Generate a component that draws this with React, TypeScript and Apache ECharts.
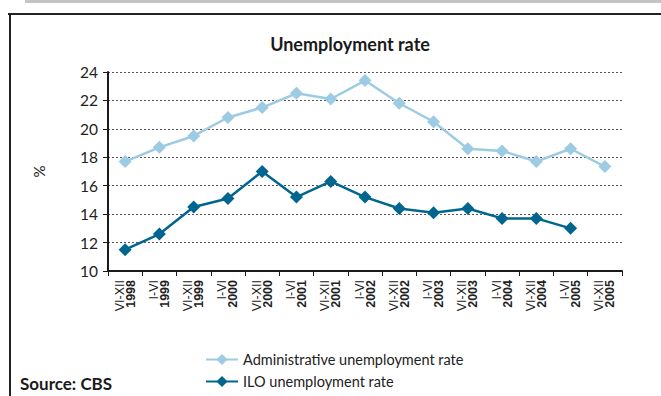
import React, { useEffect, useRef } from "react";
import * as echarts from "echarts";

const periods = ["VI-XII", "I-VI", "VI-XII", "I-VI", "VI-XII", "I-VI", "VI-XII", "I-VI", "VI-XII", "I-VI", "VI-XII", "I-VI", "VI-XII", "I-VI", "VI-XII"];
const years = ["1998", "1999", "1999", "2000", "2000", "2001", "2001", "2002", "2002", "2003", "2003", "2004", "2004", "2005", "2005"];
const adminRate = [17.7, 18.7, 19.5, 20.8, 21.5, 22.5, 22.1, 23.4, 21.8, 20.5, 18.6, 18.45, 17.7, 18.6, 17.35];
const iloRate: (number | null)[] = [11.5, 12.6, 14.5, 15.1, 17.0, 15.2, 16.3, 15.2, 14.4, 14.1, 14.4, 13.7, 13.7, 13.0, null];
const yTicks = { min: 10, max: 24, interval: 2 };

const categories = periods.map((p, i) => p + "\n" + years[i]);

export default function App() {
  const ref = useRef<HTMLDivElement>(null);
  useEffect(() => {
    if (!ref.current) return;
    const chart = echarts.init(ref.current, null, { renderer: "svg" });
    const humanist = "Lato, 'Open Sans', sans-serif";
    chart.setOption({
      animation: false,
      backgroundColor: "#fff",
      title: {
        text: "Unemployment rate",
        left: 345,
        textAlign: "center",
        top: 30,
        textStyle: { fontFamily: humanist, fontWeight: "bold", fontSize: 18, color: "#1a1a1a" },
      },
      grid: { left: 108, right: 39, top: 72, bottom: 125 },
      xAxis: {
        type: "category",
        data: categories,
        boundaryGap: true,
        axisLine: { lineStyle: { color: "#1a1a1a", width: 2 } },
        axisTick: { show: true, length: 5, lineStyle: { color: "#1a1a1a", width: 1 } },
        axisLabel: {
          interval: 0,
          rotate: 90,
          margin: 9,
          formatter: (v: string) => {
            const [p, y] = v.split("\n");
            return "{a|" + p + "}\n{b|" + y + "}";
          },
          rich: {
            a: { fontFamily: "'Liberation Sans', Arial, sans-serif", fontSize: 12.5, color: "#222", lineHeight: 11 },
            b: { fontFamily: "'Liberation Sans', Arial, sans-serif", fontSize: 12.5, fontWeight: "bold", color: "#222", lineHeight: 11 },
          },
        },
        splitLine: { show: false },
      },
      yAxis: {
        type: "value",
        min: yTicks.min,
        max: yTicks.max,
        interval: yTicks.interval,
        name: "%",
        nameLocation: "middle",
        nameRotate: 90,
        nameGap: 62,
        nameTextStyle: { fontFamily: humanist, fontSize: 15, color: "#222" },
        axisLine: { show: true, lineStyle: { color: "#1a1a1a", width: 2 } },
        axisTick: { show: true, length: 5, lineStyle: { color: "#1a1a1a", width: 1 } },
        axisLabel: { fontFamily: humanist, fontSize: 15.5, color: "#222", margin: 10 },
        splitLine: { show: true, lineStyle: { color: "#555", width: 1, type: [2, 2] } },
      },
      legend: {
        orient: "vertical",
        left: 200,
        top: 347,
        itemWidth: 32,
        itemHeight: 14,
        itemGap: 7,
        textStyle: { fontFamily: humanist, fontSize: 14.5, color: "#222" },
        data: ["Administrative unemployment rate", "ILO unemployment rate"],
      },
      series: [
        {
          name: "Administrative unemployment rate",
          type: "line",
          data: adminRate,
          symbol: "diamond",
          symbolSize: 13,
          itemStyle: { color: "#9ccbe3" },
          lineStyle: { color: "#9ccbe3", width: 2.5 },
          z: 2,
        },
        {
          name: "ILO unemployment rate",
          type: "line",
          data: iloRate,
          symbol: "diamond",
          symbolSize: 13,
          itemStyle: { color: "#00668f" },
          lineStyle: { color: "#00668f", width: 2.5 },
          z: 3,
        },
      ],
      graphic: [
        { type: "rect", shape: { x: 25, y: 0, width: 640, height: 3 }, style: { fill: "#c4c4c4" }, silent: true },
        { type: "rect", shape: { x: 8, y: 13, width: 660, height: 2 }, style: { fill: "#222" }, silent: true },
        { type: "rect", shape: { x: 9, y: 13, width: 2, height: 390 }, style: { fill: "#222" }, silent: true },
        {
          type: "text",
          left: 20,
          top: 375,
          style: { text: "Source: CBS", fontFamily: humanist, fontWeight: "bold", fontSize: 17, fill: "#1a1a1a" },
        },
      ],
    });
    return () => chart.dispose();
  }, []);
  return (
    <div
      ref={ref}
      style={{ position: "absolute", left: 0, top: 0, width: 661, height: 396 }}
    />
  );
}
